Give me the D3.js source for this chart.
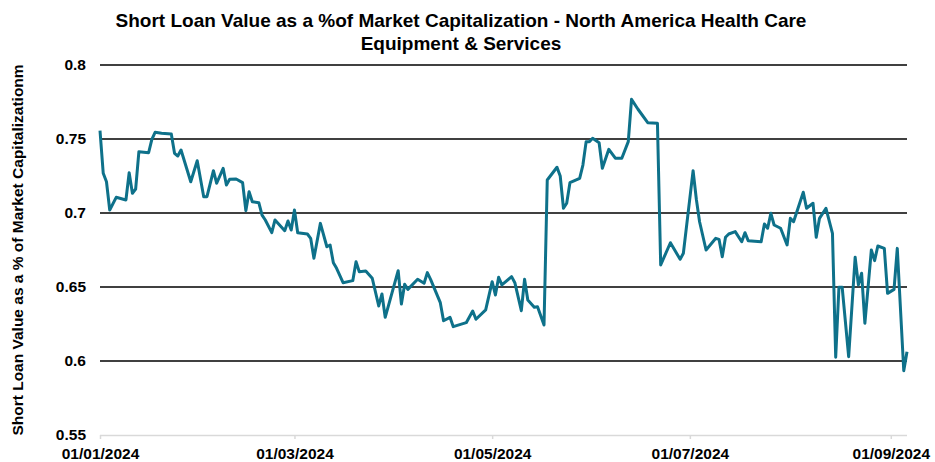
<!DOCTYPE html>
<html>
<head>
<meta charset="utf-8">
<script src="https://cdn.jsdelivr.net/npm/d3@7"></script>
<style>
  html, body { margin: 0; padding: 0; background: #fff; }
  svg { display: block; font-family: "Liberation Sans", Arial, sans-serif; }
</style>
</head>
<body>
<svg id="chart" width="935" height="462"></svg>
<script>
const dates = [
"2024-01-01","2024-01-02","2024-01-03","2024-01-04","2024-01-06","2024-01-09","2024-01-10","2024-01-11","2024-01-12","2024-01-13",
"2024-01-16","2024-01-17","2024-01-18","2024-01-20","2024-01-23","2024-01-24","2024-01-25","2024-01-26","2024-01-29","2024-01-31",
"2024-02-02","2024-02-03","2024-02-05","2024-02-06","2024-02-08","2024-02-09","2024-02-10","2024-02-12","2024-02-14","2024-02-15",
"2024-02-16","2024-02-17","2024-02-19","2024-02-20","2024-02-21","2024-02-23","2024-02-24","2024-02-27","2024-02-28","2024-02-29",
"2024-03-01","2024-03-02","2024-03-05","2024-03-06","2024-03-07","2024-03-09","2024-03-11","2024-03-12","2024-03-13","2024-03-14",
"2024-03-16","2024-03-19","2024-03-20","2024-03-21","2024-03-23","2024-03-25","2024-03-27","2024-03-28","2024-03-29","2024-04-02",
"2024-04-03","2024-04-04","2024-04-05","2024-04-08","2024-04-10","2024-04-11","2024-04-12","2024-04-15","2024-04-16","2024-04-18",
"2024-04-19","2024-04-23","2024-04-25","2024-04-26","2024-04-29","2024-05-01","2024-05-02","2024-05-03","2024-05-04","2024-05-07",
"2024-05-08","2024-05-10","2024-05-11","2024-05-12","2024-05-14","2024-05-15","2024-05-17","2024-05-18","2024-05-21","2024-05-22",
"2024-05-23","2024-05-24","2024-05-25","2024-05-28","2024-05-29","2024-05-30","2024-05-31","2024-06-01","2024-06-03","2024-06-04",
"2024-06-06","2024-06-08","2024-06-10","2024-06-12","2024-06-13","2024-06-15","2024-06-18","2024-06-21","2024-06-22","2024-06-25",
"2024-06-28","2024-06-29","2024-07-02","2024-07-03","2024-07-04","2024-07-06","2024-07-09","2024-07-10","2024-07-11","2024-07-12",
"2024-07-13","2024-07-15","2024-07-17","2024-07-18","2024-07-19","2024-07-23","2024-07-24","2024-07-25","2024-07-26","2024-07-27",
"2024-07-29","2024-07-31","2024-08-01","2024-08-02","2024-08-05","2024-08-06","2024-08-08","2024-08-09","2024-08-10","2024-08-12",
"2024-08-14","2024-08-15","2024-08-16","2024-08-17","2024-08-19","2024-08-21","2024-08-22","2024-08-23","2024-08-24","2024-08-26",
"2024-08-27","2024-08-28","2024-08-30","2024-08-31","2024-09-02","2024-09-03","2024-09-05","2024-09-06"
];
const values = [
0.7556,0.7268,0.7211,0.7020,0.7106,0.7088,0.7272,0.7133,0.7162,0.7414,
0.7407,0.7498,0.7545,0.7539,0.7534,0.7403,0.7385,0.7426,0.7211,0.7353,
0.7110,0.7110,0.7286,0.7201,0.7302,0.7189,0.7228,0.7230,0.7205,0.7016,
0.7144,0.7076,0.7070,0.6986,0.6953,0.6867,0.6953,0.6880,0.6946,0.6885,
0.7020,0.6867,0.6858,0.6829,0.6694,0.6930,0.6772,0.6784,0.6664,0.6626,
0.6529,0.6543,0.6671,0.6603,0.6608,0.6559,0.6372,0.6453,0.6295,0.6610,
0.6385,0.6518,0.6484,0.6552,0.6525,0.6597,0.6552,0.6394,0.6272,0.6295,
0.6232,0.6259,0.6338,0.6282,0.6345,0.6536,0.6446,0.6566,0.6514,0.6570,
0.6529,0.6340,0.6552,0.6412,0.6363,0.6367,0.6243,0.7223,0.7309,0.7250,
0.7032,0.7066,0.7205,0.7234,0.7324,0.7482,0.7482,0.7505,0.7475,0.7302,
0.7430,0.7370,0.7370,0.7482,0.7768,0.7701,0.7610,0.7606,0.6649,0.6799,
0.6687,0.6728,0.7286,0.7093,0.6941,0.6750,0.6829,0.6822,0.6705,0.6836,
0.6858,0.6874,0.6806,0.6867,0.6813,0.6806,0.6926,0.6897,0.6998,0.6919,
0.6897,0.6784,0.6964,0.6941,0.7140,0.7032,0.7066,0.6836,0.6964,0.7032,
0.6863,0.6025,0.6498,0.6498,0.6029,0.6701,0.6514,0.6593,0.6255,0.6750,
0.6678,0.6777,0.6761,0.6457,0.6484,0.6761,0.5934,0.6063
];
const yTicks = [0.55, 0.6, 0.65, 0.7, 0.75, 0.8];
const xTickDates = ["2024-01-01","2024-03-01","2024-05-01","2024-07-01","2024-09-01"];
const titleLines = ["Short Loan Value as a %of Market Capitalization - North America Health Care", "Equipment & Services"];
const yTitle = "Short Loan Value as a % of Market Capitalizationm";

(function () {
const parse = d3.timeParse("%Y-%m-%d");
const data = dates.map((d, i) => ({ date: parse(d), value: values[i] }));

const svg = d3.select("#chart");
const mLeft = 100, mRight = 907, mTop = 65, mBottom = 435;

const x = d3.scaleTime().domain([parse("2024-01-01"), parse("2024-09-06")]).range([mLeft, mRight]);
const y = d3.scaleLinear().domain([0.55, 0.8]).range([mBottom, mTop]);

// Title
svg.append("g").selectAll("text").data(titleLines).join("text")
  .attr("x", 461).attr("y", (d, i) => 27 + i * 23)
  .attr("text-anchor", "middle")
  .attr("font-size", 19).attr("font-weight", "bold").attr("fill", "#000")
  .text(d => d);

// Gridlines (excluding the bottom axis line)
svg.append("g").selectAll("line").data(yTicks.filter(t => t > 0.55)).join("line")
  .attr("x1", mLeft).attr("x2", mRight)
  .attr("y1", d => y(d)).attr("y2", d => y(d))
  .attr("stroke", "#000").attr("stroke-width", 1.6);

// Y axis labels
const yAxis = d3.axisLeft(y).tickValues(yTicks).tickSize(0).tickPadding(14)
  .tickFormat(d => String(+d.toFixed(2)));
const gy = svg.append("g").attr("transform", `translate(${mLeft},0)`).call(yAxis);
gy.select(".domain").remove();
gy.selectAll("text").attr("font-size", 15.5).attr("font-weight", "bold").attr("fill", "#000")
  .attr("font-family", "'Liberation Sans', Arial, sans-serif");

// X axis
const xAxis = d3.axisBottom(x).tickValues(xTickDates.map(parse)).tickSize(4).tickPadding(9)
  .tickFormat(d3.timeFormat("%d/%m/%Y"));
const gx = svg.append("g").attr("transform", `translate(0,${mBottom})`).call(xAxis);
gx.select(".domain").attr("stroke", "#d9d9d9").attr("stroke-width", 1.5)
  .attr("d", `M${mLeft},0.5H${mRight}`);
gx.selectAll(".tick line").attr("stroke", "#d9d9d9").attr("stroke-width", 1.5);
gx.selectAll("text").attr("font-size", 15.5).attr("font-weight", "bold").attr("fill", "#000")
  .attr("font-family", "'Liberation Sans', Arial, sans-serif");

// Y title
svg.append("text")
  .attr("transform", `translate(23,250) rotate(-90)`)
  .attr("text-anchor", "middle")
  .attr("font-size", 15.5).attr("font-weight", "bold").attr("fill", "#000")
  .text(yTitle);

// Line
const line = d3.line().x(d => x(d.date)).y(d => y(d.value));
svg.append("path").datum(data)
  .attr("d", line)
  .attr("fill", "none")
  .attr("stroke", "#0e718a")
  .attr("stroke-width", 3)
  .attr("stroke-linejoin", "round");
})();
</script>
</body>
</html>
